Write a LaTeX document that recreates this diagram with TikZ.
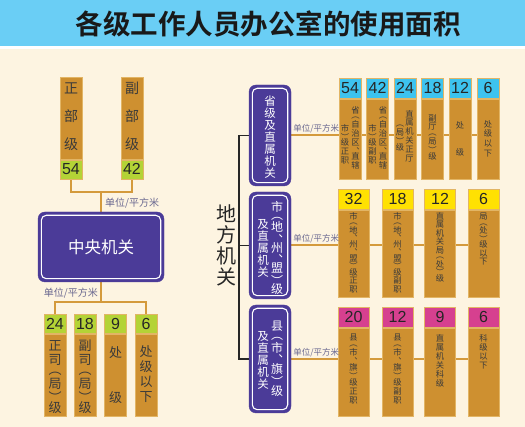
\documentclass[tikz,border=0pt]{standalone}
\usepackage{fontspec}
\setmainfont{Noto Sans CJK SC}
\newfontfamily\titlefont{Noto Sans CJK SC Bold}
\newfontfamily\numfont{Liberation Sans}
\usetikzlibrary{positioning}
\definecolor{paper}{HTML}{FDF4E1}
\definecolor{titleblue}{HTML}{6ACEF5}
\definecolor{barbrown}{HTML}{CE9030}
\definecolor{barrim}{HTML}{E2B565}
\definecolor{linkbrown}{HTML}{D49A3C}
\definecolor{deptpurple}{HTML}{4B3B98}
\definecolor{capgreen}{HTML}{B4D336}
\definecolor{capcyan}{HTML}{3DC3EF}
\definecolor{capyellow}{HTML}{FFE102}
\definecolor{capmagenta}{HTML}{D6408F}
\definecolor{inkgray}{HTML}{3A3A3A}
\definecolor{unitgray}{HTML}{6A6890}
\pgfdeclarelayer{paper}
\pgfdeclarelayer{links}
\pgfsetlayers{paper,links,main}
\tikzset{
  barbody/.style={fill=barbrown, draw=barrim, line width=0.6pt, inner sep=0pt, anchor=north},
  numcap/.style={draw=barrim, line width=0.6pt, inner sep=0pt, anchor=north, minimum height=20,
    text=black!85, font=\numfont\fontsize{16}{16}\selectfont},
  dept/.style={fill=deptpurple, draw=deptpurple, rounded corners=7pt, text=white, inner sep=0pt},
  deptframe/.style={draw=white, line width=1.1pt, rounded corners=5pt},
  vtext/.style={align=center, inner sep=0pt, anchor=north, text=inkgray, font=\fontsize{8.3}{8.8}\selectfont},
  wtext/.style={align=center, inner sep=0pt, anchor=north, text=white, font=\fontsize{11.5}{12}\selectfont},
  joinline/.style={draw=linkbrown, line width=2pt},
  bracket/.style={draw=black!85, line width=1.4pt},
  unit/.style={inner sep=0pt, text=unitgray, font=\fontsize{8.5}{9}\selectfont}
}
\begin{document}
\begin{tikzpicture}[x=1pt, y=-1pt]
  \begin{pgfonlayer}{paper}
    \fill[paper] (0,0) rectangle (525,427);
    \fill[titleblue] (0,0) rectangle (525,46.5);
    \fill[white] (0,46.5) rectangle (525,49);
  \end{pgfonlayer}
  \useasboundingbox (0,0) rectangle (525,427);
  \node[font=\titlefont\fontsize{27.5}{29}\selectfont, text=black!90] (title) at (268,24) {各级工作人员办公室的使用面积};

  % central
  \node[dept, minimum width=126, minimum height=70, font=\fontsize{16.5}{18}\selectfont] (zy) at (101,247) {中央机关};
  \foreach \n/\cx/\num in {z1/71/54, z2/132/42}{
    \node[barbody, minimum width=22, minimum height=82] (\n) at (\cx,77) {};
    \node[numcap, fill=capgreen, minimum width=22, minimum height=19] (\n-cap) at (\n.south) {\num};
  }
  \node[vtext, anchor=center, font=\fontsize{14}{16}\selectfont] at ([yshift=2]z1.center) {正\\[12pt]部\\[12pt]级};
  \node[vtext, anchor=center, font=\fontsize{14}{16}\selectfont] at ([yshift=2]z2.center) {副\\[12pt]部\\[12pt]级};
  \foreach \n/\cx/\num in {d1/55/24, d2/85/18, d3/115.5/9, d4/146/6}{
    \node[numcap, fill=capgreen, minimum width=22, minimum height=19] (\n-cap) at (\cx,314) {\num};
    \node[barbody, minimum width=22, minimum height=82] (\n) at (\n-cap.south) {};
  }
  \node[vtext, font=\fontsize{13}{14}\selectfont] at (55,340) {正\\司\\[-4pt]︵\\局\\︶\\[-4pt]级};
  \node[vtext, font=\fontsize{13}{14}\selectfont] at (85,340) {副\\司\\[-4pt]︵\\局\\︶\\[-4pt]级};
  \node[vtext, font=\fontsize{13}{14}\selectfont] at (115.5,346) {处\\[31pt]级};
  \node[vtext, font=\fontsize{13}{15}\selectfont] at (146,345) {处\\级\\以\\下};
  \coordinate (topbus) at (101,192);
  \coordinate (botbus) at (101,302);

  % local
  \node[text=black!85, align=center, inner sep=0pt, anchor=north, font=\fontsize{20}{21}\selectfont] (local) at (226,205) {地\\方\\机\\关};
  \node[dept, minimum width=42, minimum height=101] (sheng) at (270,135.5) {};
  \node[dept, minimum width=42, minimum height=107] (shi) at (270,245.5) {};
  \node[dept, minimum width=42, minimum height=108] (xian) at (270,359) {};
  \node[wtext] at (270,96) {省\\级\\及\\直\\属\\机\\关};
  \node[wtext, font=\fontsize{12}{12.5}\selectfont] at (277,201) {市\\[-4.5pt]︵\\地\\︑\\[-4.5pt]州\\︑\\[-4.5pt]盟\\︶\\[-4.5pt]级};
  \node[wtext] at (263,219) {及\\直\\属\\机\\关};
  \node[wtext, font=\fontsize{12}{12.5}\selectfont] at (277,321) {县\\[-3.5pt]︵\\市\\︑\\[-3.5pt]旗\\︶\\[-3.5pt]级};
  \node[wtext] at (263,331) {及\\直\\属\\机\\关};
  \foreach \b in {zy, sheng, shi, xian}
    \draw[deptframe] ([shift={(3.5,3.5)}]\b.north west) rectangle ([shift={(-3.5,-3.5)}]\b.south east);

  % province row
  \foreach \n/\cx/\num in {p1/350/54, p2/377.5/42, p3/405/24, p4/432.5/18, p5/460/12, p6/488/6}{
    \node[numcap, fill=capcyan, minimum width=22] (\n-cap) at (\cx,78) {\num};
    \node[barbody, minimum width=22, minimum height=80] (\n) at (\n-cap.south) {};
  }
  \node[vtext] at (355.5,106) {省\\[-3pt]︵\\自\\治\\区\\︑\\[-3pt]直\\辖};
  \node[vtext] at (345,124) {市\\︶\\[-3pt]级\\正\\职};
  \node[vtext] at (383,106) {省\\[-3pt]︵\\自\\治\\区\\︑\\[-3pt]直\\辖};
  \node[vtext] at (372.5,124) {市\\︶\\[-3pt]级\\副\\职};
  \node[vtext] at (409.5,110) {直\\属\\机\\关\\正\\厅};
  \node[vtext] at (400,125) {︵\\局\\︶\\[-3pt]级};
  \node[vtext] at (432.5,114) {副\\厅\\[-3pt]︵\\局\\︶\\[-3pt]级};
  \node[vtext] at (460,121) {处\\[19pt]级};
  \node[vtext, font=\fontsize{8.3}{9.7}\selectfont] at (488,120) {处\\级\\以\\下};

  % city row
  \foreach \n/\cx/\num in {c1/353.5/32, c2/397.5/18, c3/440/12, c4/483.5/6}{
    \node[numcap, fill=capyellow, minimum width=31] (\n-cap) at (\cx,189) {\num};
    \node[barbody, minimum width=31, minimum height=87] (\n) at (\n-cap.south) {};
  }
  \node[vtext, font=\fontsize{8.3}{8.5}\selectfont] at (353.5,212) {市\\[-3pt]︵\\地\\︑\\[-3pt]州\\︑\\[-3pt]盟\\︶\\[-3pt]级\\正\\职};
  \node[vtext, font=\fontsize{8.3}{8.5}\selectfont] at (397.5,212) {市\\[-3pt]︵\\地\\︑\\[-3pt]州\\︑\\[-3pt]盟\\︶\\[-3pt]级\\副\\职};
  \node[vtext, font=\fontsize{8.3}{8.5}\selectfont] at (440,212) {直\\属\\机\\关\\局\\[-3pt]︵\\处\\︶\\[-3pt]级};
  \node[vtext, font=\fontsize{8.3}{8.5}\selectfont] at (483.5,213) {局\\[-3pt]︵\\处\\︶\\[-3pt]级\\以\\下};

  % county row
  \foreach \n/\cx/\num in {x1/353.5/20, x2/397.5/12, x3/440/9, x4/483.5/6}{
    \node[numcap, fill=capmagenta, minimum width=31] (\n-cap) at (\cx,307) {\num};
    \node[barbody, minimum width=31, minimum height=88] (\n) at (\n-cap.south) {};
  }
  \node[vtext, font=\fontsize{8.3}{9}\selectfont] at (353.5,334) {县\\[-3pt]︵\\市\\︑\\[-3pt]旗\\︶\\[-3pt]级\\正\\职};
  \node[vtext, font=\fontsize{8.3}{9}\selectfont] at (397.5,334) {县\\[-3pt]︵\\市\\︑\\[-3pt]旗\\︶\\[-3pt]级\\副\\职};
  \node[vtext, font=\fontsize{8.3}{9}\selectfont] at (440,334) {直\\属\\机\\关\\科\\级};
  \node[vtext, font=\fontsize{8.3}{9}\selectfont] at (483.5,334) {科\\级\\以\\下};

  % connectors
  \begin{pgfonlayer}{links}
    \draw[joinline] (z1-cap.south) |- (topbus) -| (z2-cap.south);
    \draw[joinline] (topbus) -- (zy.north);
    \draw[joinline] (zy.south) -- (botbus);
    \draw[joinline] (d1-cap.north) |- (botbus) -| (d4-cap.north);
    \draw[joinline] (sheng.east) -- (sheng.east -| p6.west);
    \draw[joinline] (shi.east) -- (shi.east -| c4.west);
    \draw[joinline] (xian.east) -- (xian.east -| x4.west);
  \end{pgfonlayer}
  \draw[bracket] (sheng.west) -- ++(-10,0) |- (xian.west);
  \draw[bracket] (shi.west) -- ++(-10,0);

  \node[unit, anchor=west, font=\fontsize{10}{10}\selectfont] at ([shift={(4,11)}]topbus) {单位/平方米};
  \node[unit, anchor=east, font=\fontsize{10}{10}\selectfont] at ([shift={(-3,-9)}]botbus) {单位/平方米};
  \foreach \b in {sheng, shi, xian}
    \node[unit, anchor=south west] at ([shift={(2,-2)}]\b.east) {单位/平方米};
\end{tikzpicture}
\end{document}
